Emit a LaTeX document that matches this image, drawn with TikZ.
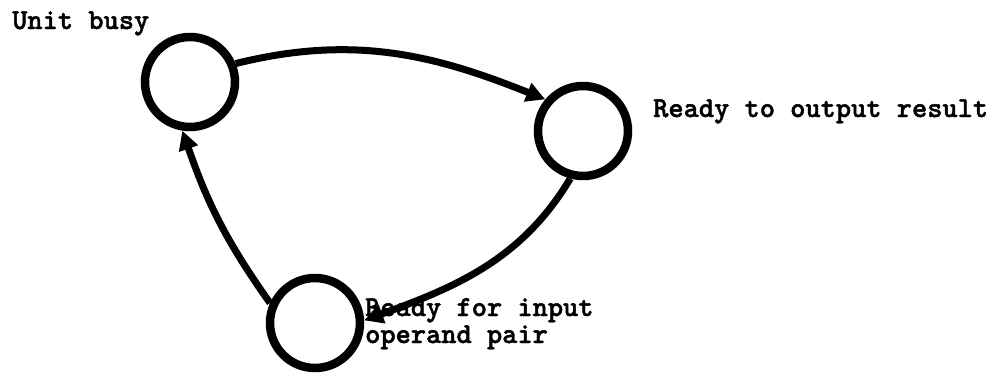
\documentclass[tikz,border=0pt]{standalone}
\usepackage{fontspec}
\setmonofont{lmmonolt10-bold.otf}[BoldFont=lmmonolt10-bold.otf,BoldFeatures={FakeBold=1.5}]
\usetikzlibrary{arrows.meta}
\begin{document}
\begin{tikzpicture}[x=1pt,y=-1pt,
  state/.style={circle,draw,line width=8.5pt,minimum size=90pt,inner sep=0pt},
  trans/.style={line width=7pt,-{Triangle[length=19pt,width=19pt]}},
  lbl/.style={inner sep=0pt,anchor=base west,align=left,
    font=\ttfamily\bfseries\fontsize{29}{27}\selectfont}]
\useasboundingbox[fill=white] (0,0) rectangle (1007,381);
\node[state] (A) at (190,82) {};
\node[state] (B) at (583,131) {};
\node[state] (C) at (315,323) {};
\node[lbl] (la) at (12,29) {Unit busy};
\node[lbl] (lb) at (653,117) {Ready to output result};
\node[lbl] (lc) at (365,343) {Ready for input\\operand pair};
\draw[trans] (A.22) .. controls +(117,-29) and +(-112,-45) .. (B.140);
\draw[trans] (B.255) .. controls +(-49,82) and +(90,-33) .. (C.3);
\draw[trans] (C.156) .. controls +(-44,-62) and +(25,72) .. (A.261);
\end{tikzpicture}
\end{document}
